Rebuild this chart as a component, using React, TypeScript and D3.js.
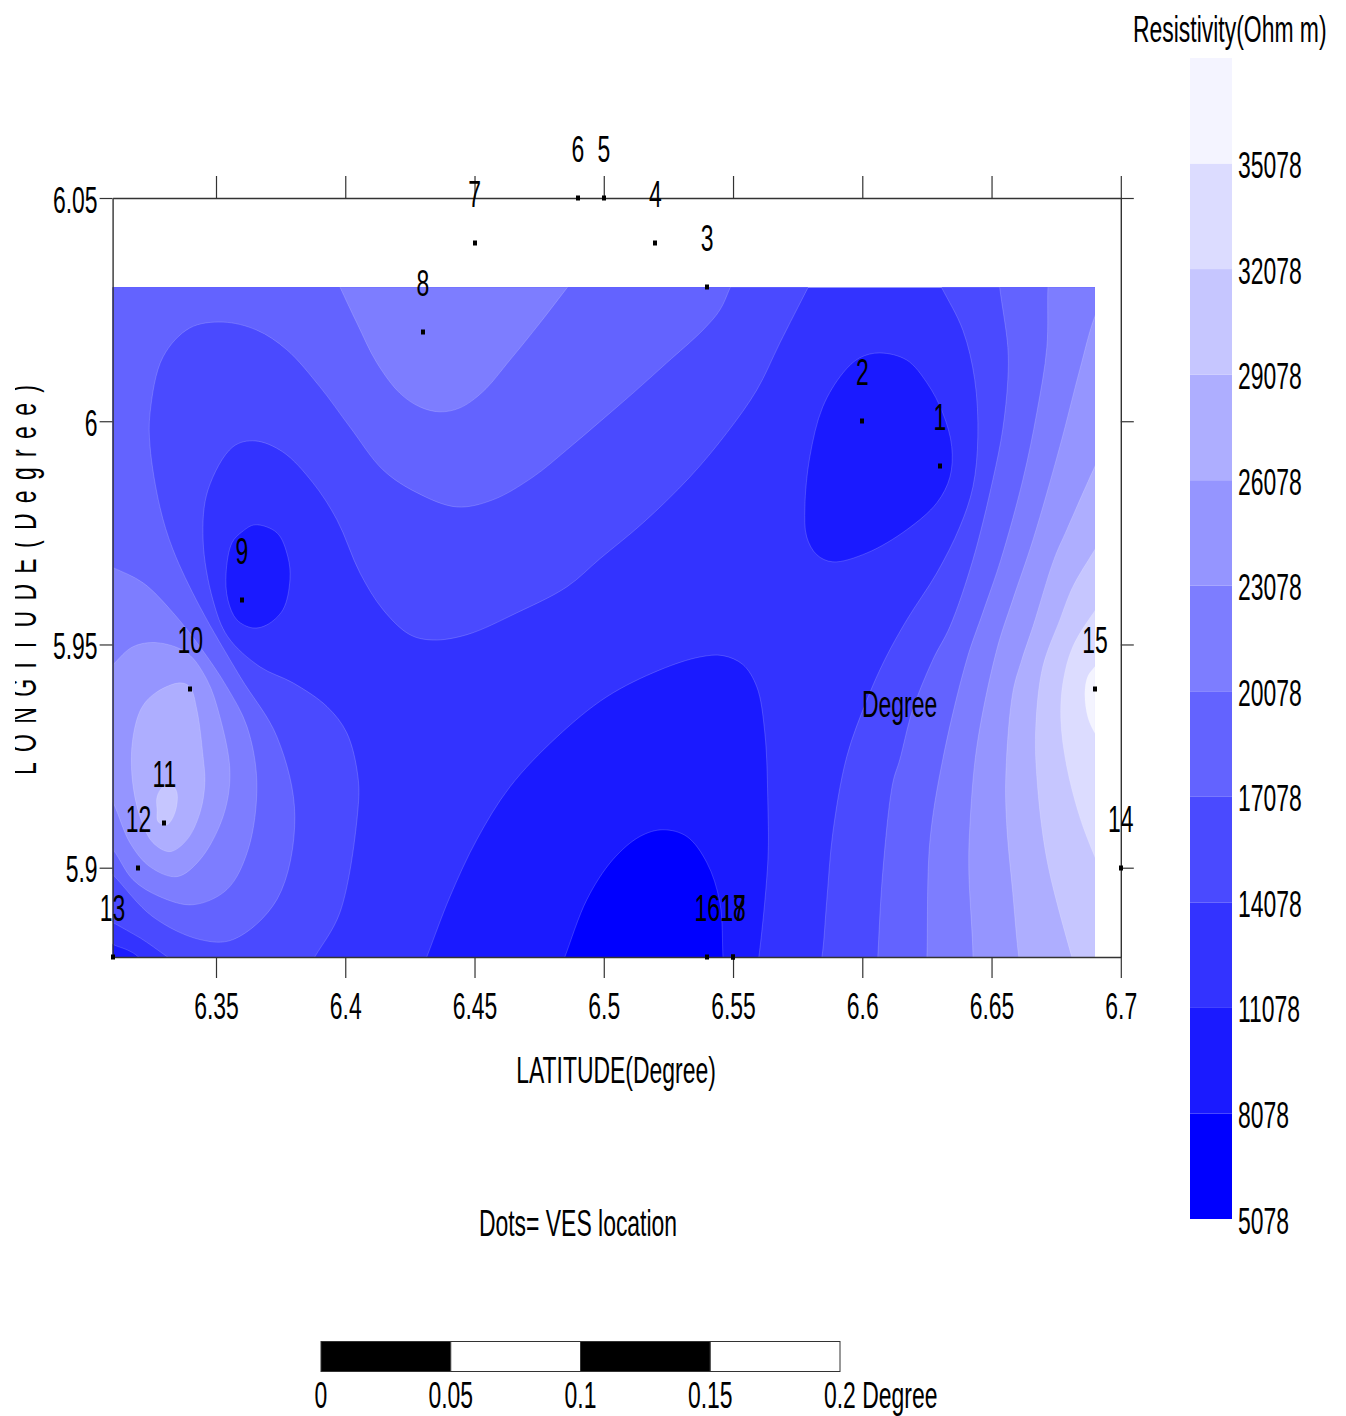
import React, { useRef, useEffect } from "react";
import * as d3 from "d3";

type Pt = [number, number];

// contour levels (Ohm m) and the fill of each band, lowest first
const levels = [5078, 8078, 11078, 14078, 17078, 20078, 23078, 26078, 29078, 32078, 35078];
const bandColors = ["#ffffff", "#0000ff", "#1a1aff", "#3333ff", "#4a4aff", "#6363ff", "#7d7dff", "#9595ff", "#aeaeff", "#c6c6ff", "#dcdcff", "#f4f4ff"];
const legendTop = 38078;

const latTicks = [6.35, 6.4, 6.45, 6.5, 6.55, 6.6, 6.65, 6.7];
const longTicks = [6.05, 6, 5.95, 5.9];
const scaleTicks = [0, 0.05, 0.1, 0.15, 0.2];

// VES stations: [id, latitude, longitude]
const stations: [string, number, number][] = [
  ["1", 6.63, 5.99], ["2", 6.6, 6.0], ["3", 6.54, 6.03], ["4", 6.52, 6.04], ["5", 6.5, 6.05], ["6", 6.49, 6.05],
  ["7", 6.45, 6.04], ["8", 6.43, 6.02], ["9", 6.36, 5.96], ["10", 6.34, 5.94], ["11", 6.33, 5.91], ["12", 6.32, 5.9],
  ["13", 6.31, 5.88], ["14", 6.7, 5.9], ["15", 6.69, 5.94], ["16", 6.54, 5.88], ["17", 6.55, 5.88], ["18", 6.55, 5.88],
];

// contour outlines as [lat, long]; the ends run past the grid edge and get clipped
const above14078Left: Pt[] = [[6.3013, 5.8911], [6.3013, 6.0361], [6.5836, 6.035], [6.5789, 6.0298], [6.5681, 6.0175], [6.5592, 6.007], [6.5476, 5.9974], [6.5333, 5.9875], [6.5151, 5.9772], [6.4985, 5.9692], [6.4857, 5.9629], [6.4664, 5.9571], [6.4471, 5.9522], [6.4339, 5.951], [6.425, 5.9522], [6.4146, 5.9578], [6.4057, 5.966], [6.3968, 5.9779], [6.3875, 5.9862], [6.3759, 5.9931], [6.3651, 5.9956], [6.3566, 5.9943], [6.3469, 5.9846], [6.345, 5.9734], [6.3488, 5.96], [6.3546, 5.9517], [6.367, 5.945], [6.3798, 5.9414], [6.3929, 5.9361], [6.4006, 5.9302], [6.4049, 5.9204], [6.4049, 5.913], [6.3979, 5.8899], [6.3883, 5.8801], [6.3844, 5.8761], [6.3407, 5.8761], [6.331, 5.8801], [6.3206, 5.8843], [6.3102, 5.8877]];
const above14078Right: Pt[] = [[6.6261, 6.035], [6.7035, 6.035], [6.7035, 5.8761], [6.5828, 5.8761], [6.5844, 5.8801], [6.5863, 5.8929], [6.5886, 5.9078], [6.594, 5.9249], [6.6018, 5.9376], [6.6087, 5.9466], [6.6172, 5.9555], [6.6288, 5.966], [6.6377, 5.9763], [6.6428, 5.9853], [6.6447, 5.9965], [6.6435, 6.0093], [6.6389, 6.0204], [6.6308, 6.0298]];
const above17078Left: Pt[] = [[6.3013, 6.0361], [6.5526, 6.035], [6.5488, 6.0298], [6.5449, 6.0249], [6.5383, 6.0204], [6.5244, 6.0131], [6.5113, 6.0063], [6.4985, 5.9999], [6.4857, 5.9936], [6.4726, 5.9875], [6.4571, 5.9824], [6.4432, 5.9808], [6.4277, 5.984], [6.4146, 5.9891], [6.4018, 5.9987], [6.3902, 6.0077], [6.3774, 6.016], [6.3658, 6.0204], [6.3527, 6.0222], [6.3399, 6.0209], [6.3295, 6.0144], [6.3245, 6.0019], [6.3245, 5.9943], [6.3283, 5.9808], [6.3334, 5.9712], [6.3438, 5.9584], [6.3593, 5.9428], [6.3736, 5.9293], [6.3805, 5.9114], [6.3736, 5.8929], [6.3566, 5.8839], [6.3438, 5.8839], [6.3256, 5.889], [6.3102, 5.8984], [6.3013, 5.9036]];
const above17078Right: Pt[] = [[6.6524, 6.035], [6.7035, 6.035], [6.7035, 5.8761], [6.6056, 5.8761], [6.606, 5.8801], [6.6079, 5.8989], [6.6118, 5.919], [6.6145, 5.9242], [6.6195, 5.9354], [6.6273, 5.9466], [6.6339, 5.954], [6.6428, 5.969], [6.6505, 5.9869], [6.6543, 5.9981], [6.6563, 6.0093], [6.6563, 6.0166], [6.6532, 6.0298]];
const above20078Top: Pt[] = [[6.3941, 6.035], [6.3979, 6.0301], [6.4045, 6.022], [6.4122, 6.0131], [6.4211, 6.0063], [6.4289, 6.0032], [6.4366, 6.0021], [6.4444, 6.003], [6.4532, 6.0066], [6.4637, 6.0137], [6.4753, 6.022], [6.4857, 6.0298], [6.4927, 6.035]];
const above20078Left: Pt[] = [[6.3013, 5.9694], [6.3102, 5.9672], [6.3218, 5.9638], [6.3334, 5.9571], [6.3438, 5.9495], [6.3542, 5.9405], [6.362, 5.9316], [6.3658, 5.919], [6.3624, 5.904], [6.3542, 5.8951], [6.3411, 5.8917], [6.3283, 5.8935], [6.3179, 5.8973], [6.3102, 5.904], [6.3013, 5.9096]];
const above20078Right: Pt[] = [[6.6725, 6.035], [6.7035, 6.035], [6.7035, 5.8761], [6.6246, 5.8761], [6.625, 5.8801], [6.6261, 5.9056], [6.6311, 5.9242], [6.6404, 5.9466], [6.6466, 5.9571], [6.6536, 5.969], [6.6621, 5.9869], [6.6675, 6.0019], [6.6714, 6.0166], [6.6718, 6.0298]];
const above23078Left: Pt[] = [[6.3013, 5.9399], [6.3102, 5.9455], [6.3179, 5.9495], [6.3272, 5.9504], [6.3388, 5.9481], [6.3465, 5.9421], [6.3515, 5.9338], [6.3554, 5.9213], [6.3527, 5.9114], [6.3438, 5.9018], [6.3349, 5.898], [6.3245, 5.9002], [6.3167, 5.9056], [6.3102, 5.9146], [6.3013, 5.9242]];
const above23078Right: Pt[] = [[6.6957, 6.0305], [6.7035, 6.0305], [6.7035, 5.8761], [6.6424, 5.8761], [6.6428, 5.8801], [6.6412, 5.8996], [6.6416, 5.9092], [6.6443, 5.9271], [6.652, 5.9488], [6.6582, 5.96], [6.666, 5.9734], [6.6764, 5.9943], [6.6841, 6.0115], [6.6899, 6.0234]];
const above26078Left: Pt[] = [[6.3272, 5.9394], [6.3361, 5.9414], [6.3399, 5.9405], [6.3426, 5.9354], [6.345, 5.9249], [6.3457, 5.919], [6.3438, 5.9123], [6.3388, 5.9063], [6.3322, 5.9036], [6.3256, 5.9056], [6.3206, 5.9114], [6.3175, 5.9204], [6.3179, 5.9293], [6.3214, 5.936]];
const above26078Right: Pt[] = [[6.6957, 5.9969], [6.7035, 5.9969], [6.7035, 5.8761], [6.6617, 5.8761], [6.6605, 5.8801], [6.6582, 5.8944], [6.6559, 5.9092], [6.6555, 5.9204], [6.6582, 5.9392], [6.6617, 5.9466], [6.666, 5.954], [6.6741, 5.969], [6.6791, 5.9757], [6.6899, 5.9898]];
const above29078Left: Pt[] = [[6.3272, 5.9159], [6.3295, 5.9181], [6.333, 5.9184], [6.3349, 5.9168], [6.3341, 5.9123], [6.331, 5.9096], [6.3276, 5.9103], [6.3272, 5.913]];
const above29078Right: Pt[] = [[6.6957, 5.9768], [6.7035, 5.9768], [6.7035, 5.8761], [6.683, 5.8761], [6.681, 5.8801], [6.6714, 5.9018], [6.6675, 5.9204], [6.6671, 5.9316], [6.6698, 5.945], [6.6764, 5.9555], [6.6814, 5.9629], [6.6899, 5.9712]];
const above32078Right: Pt[] = [[6.6977, 5.9634], [6.7035, 5.9634], [6.7035, 5.8951], [6.6957, 5.8951], [6.6899, 5.9025], [6.6841, 5.9114], [6.6791, 5.9226], [6.6768, 5.9331], [6.6776, 5.9414], [6.6814, 5.9495], [6.6899, 5.9575]];
const above35078Right: Pt[] = [[6.6938, 5.9477], [6.7035, 5.9477], [6.7035, 5.9269], [6.6938, 5.9269], [6.6899, 5.9302], [6.6872, 5.9338], [6.6861, 5.9392], [6.6872, 5.9428], [6.6899, 5.945]];
const below11078Ves9: Pt[] = [[6.3651, 5.9768], [6.3736, 5.975], [6.3778, 5.9696], [6.3786, 5.9645], [6.3759, 5.9578], [6.3697, 5.9544], [6.3643, 5.9537], [6.3581, 5.9555], [6.3546, 5.96], [6.3539, 5.966], [6.3562, 5.9728], [6.36, 5.9752]];
const below11078Ves2: Pt[] = [[6.6068, 6.0153], [6.6172, 6.0137], [6.625, 6.0086], [6.6311, 6.0019], [6.6346, 5.9943], [6.6339, 5.9875], [6.6288, 5.9817], [6.6172, 5.9757], [6.6018, 5.9705], [6.5886, 5.9685], [6.5824, 5.9701], [6.5785, 5.9741], [6.5778, 5.9808], [6.5797, 5.992], [6.5847, 6.0032], [6.5925, 6.0108], [6.599, 6.0142]];
const below11078South: Pt[] = [[6.4289, 5.8761], [6.4316, 5.8801], [6.4405, 5.8935], [6.4509, 5.9063], [6.4637, 5.9181], [6.4819, 5.9293], [6.5012, 5.9383], [6.5217, 5.9443], [6.5372, 5.9472], [6.5461, 5.9475], [6.5538, 5.9455], [6.5592, 5.9405], [6.5623, 5.9302], [6.5635, 5.9137], [6.5635, 5.9018], [6.56, 5.8801], [6.5588, 5.8761]];
const below11078Corner: Pt[] = [[6.3013, 5.8861], [6.3102, 5.8828], [6.3156, 5.8816], [6.3198, 5.8801], [6.3245, 5.8761], [6.3013, 5.8761]];
const below8078South: Pt[] = [[6.4823, 5.8761], [6.485, 5.8801], [6.4935, 5.8929], [6.5035, 5.9018], [6.514, 5.907], [6.5229, 5.9085], [6.5321, 5.907], [6.5399, 5.9011], [6.5449, 5.8922], [6.5461, 5.8801], [6.5465, 5.8761]];

// paint order; value picks the band colour (the 11078-14078 band is the background)
const contourLayers: { value: number; points: Pt[] }[] = [
  { value: 14078, points: above14078Left }, { value: 14078, points: above14078Right },
  { value: 17078, points: above17078Left }, { value: 17078, points: above17078Right },
  { value: 20078, points: above20078Top }, { value: 20078, points: above20078Left }, { value: 20078, points: above20078Right },
  { value: 23078, points: above23078Left }, { value: 23078, points: above23078Right },
  { value: 26078, points: above26078Left }, { value: 26078, points: above26078Right },
  { value: 29078, points: above29078Left }, { value: 29078, points: above29078Right },
  { value: 32078, points: above32078Right }, { value: 35078, points: above35078Right },
  { value: 8078, points: below11078Ves9 }, { value: 8078, points: below11078Ves2 }, { value: 8078, points: below11078South }, { value: 8078, points: below11078Corner },
  { value: 5078, points: below8078South },
];

const FONT = "'Liberation Sans', Arial, sans-serif";
const FONT_SIZE = 37;
const NARROW = 0.62; // the original type is a squeezed Arial

const App = () => {
  const ref = useRef<SVGSVGElement>(null);

  useEffect(() => {
    if (!ref.current) return;
    const svg = d3.select(ref.current);
    svg.selectAll("*").remove();

    const x = d3.scaleLinear().domain([6.31, 6.7]).range([112.6, 1120.8]);
    const y = d3.scaleLinear().domain([5.88, 6.05]).range([957, 198]);
    const color = d3.scaleThreshold<number, string>().domain(levels).range(bandColors);
    const legendY = d3.scaleLinear().domain([levels[0], legendTop]).range([1219, 58]);
    const barX = d3.scaleLinear().domain([0, 0.2]).range([321, 840]);

    const label = (px: number, py: number, s: string, anchor = "middle") =>
      svg.append("text")
        .attr("transform", `translate(${px},${py}) scale(${NARROW},1)`)
        .attr("text-anchor", anchor)
        .attr("font-family", FONT)
        .attr("font-size", FONT_SIZE)
        .attr("fill", "#000")
        .text(s);

    // contour map
    const gridX0 = x(6.31), gridX1 = x(6.69), gridY0 = y(6.03), gridY1 = y(5.88);
    svg.append("defs").append("clipPath").attr("id", "grid")
      .append("rect").attr("x", gridX0).attr("y", gridY0).attr("width", gridX1 - gridX0).attr("height", gridY1 - gridY0);
    svg.select("defs").append("clipPath").attr("id", "ylabel")
      .append("rect").attr("x", 15).attr("y", 300).attr("width", 60).attr("height", 600);

    const map = svg.append("g").attr("clip-path", "url(#grid)");
    map.append("rect").attr("x", gridX0).attr("y", gridY0).attr("width", gridX1 - gridX0).attr("height", gridY1 - gridY0)
      .attr("fill", color(11078));

    const outline = d3.line<Pt>()
      .x((d) => x(d[0]))
      .y((d) => y(d[1]))
      .curve(d3.curveCatmullRomClosed.alpha(0.5));

    map.selectAll("path.band")
      .data(contourLayers)
      .join("path")
      .attr("class", "band")
      .attr("d", (d) => outline(d.points))
      .attr("fill", (d) => color(d.value))
      .attr("stroke", "rgba(255,255,255,0.22)")
      .attr("stroke-width", 0.8);

    // axes
    const styleAxis = (g: any) => {
      g.selectAll("line").attr("stroke", "#333").attr("stroke-width", 1.2);
      g.select(".domain").attr("stroke", "#333").attr("stroke-width", 1.4);
    };
    const bottom = svg.append("g").attr("transform", `translate(0,${y(5.88)})`)
      .call(d3.axisBottom(x).tickValues(latTicks).tickSize(21).tickSizeOuter(0).tickFormat((d) => String(d)));
    bottom.selectAll("text")
      .attr("y", null).attr("dy", null)
      .attr("transform", `translate(0,62) scale(${NARROW},1)`)
      .attr("font-family", FONT).attr("font-size", FONT_SIZE).attr("fill", "#000");
    styleAxis(bottom);
    const top = svg.append("g").attr("transform", `translate(0,${y(6.05)})`)
      .call(d3.axisTop(x).tickValues(latTicks).tickSize(22).tickSizeOuter(0).tickFormat(() => ""));
    styleAxis(top);
    const left = svg.append("g").attr("transform", `translate(${x(6.31)},0)`)
      .call(d3.axisLeft(y).tickValues(longTicks).tickSize(13).tickSizeOuter(0).tickFormat((d) => String(d)));
    left.selectAll("text")
      .attr("x", null).attr("dy", null)
      .attr("transform", `translate(-15,14) scale(${NARROW},1)`)
      .attr("font-family", FONT).attr("font-size", FONT_SIZE).attr("fill", "#000");
    styleAxis(left);
    const right = svg.append("g").attr("transform", `translate(${x(6.7)},0)`)
      .call(d3.axisRight(y).tickValues(longTicks).tickSize(13).tickSizeOuter(0).tickFormat(() => ""));
    styleAxis(right);

    // VES locations
    svg.selectAll("rect.ves")
      .data(stations)
      .join("rect")
      .attr("class", "ves")
      .attr("x", (d) => Math.round(x(d[1])) - 2)
      .attr("y", (d) => Math.round(y(d[2])) - 2.5)
      .attr("width", 4)
      .attr("height", 5)
      .attr("fill", "#000");
    stations.forEach((d) => label(x(d[1]), y(d[2]) - 36, d[0]));

    // axis titles and notes
    label(616, 1083, "LATITUDE(Degree)");
    label(578, 1236, "Dots= VES location");
    label(862, 717, "Degree", "start");
    svg.append("g").attr("clip-path", "url(#ylabel)")
      .append("text")
      .attr("transform", `translate(36,775) rotate(-90) scale(${NARROW},1)`)
      .attr("font-family", FONT)
      .attr("font-size", FONT_SIZE)
      .attr("letter-spacing", 16.7)
      .text("LONGITUDE(Degree)");

    // colour bar
    const legendStops = [...levels, legendTop];
    svg.selectAll("rect.key")
      .data(levels)
      .join("rect")
      .attr("class", "key")
      .attr("x", 1190)
      .attr("width", 42)
      .attr("y", (d, i) => legendY(legendStops[i + 1]))
      .attr("height", (d, i) => legendY(d) - legendY(legendStops[i + 1]))
      .attr("fill", (d) => color(d));
    levels.forEach((d) => label(1238, legendY(d) + 14.5, String(d), "start"));
    label(1133, 42, "Resistivity(Ohm m)", "start");

    // scale bar
    svg.selectAll("rect.bar")
      .data(scaleTicks.slice(0, -1))
      .join("rect")
      .attr("class", "bar")
      .attr("x", (d) => barX(d))
      .attr("y", 1341.5)
      .attr("width", (d, i) => barX(scaleTicks[i + 1]) - barX(d))
      .attr("height", 30)
      .attr("fill", (d, i) => (i % 2 ? "#fff" : "#000"))
      .attr("stroke", "#333")
      .attr("stroke-width", 1);
    scaleTicks.slice(0, -1).forEach((d) => label(barX(d), 1408, String(d)));
    label(824, 1408, "0.2 Degree", "start");
  }, []);

  return (
    <svg
      ref={ref}
      width={1346}
      height={1416}
      style={{ position: "absolute", left: 0, top: 0, display: "block", background: "#fff" }}
    />
  );
};

export default App;
